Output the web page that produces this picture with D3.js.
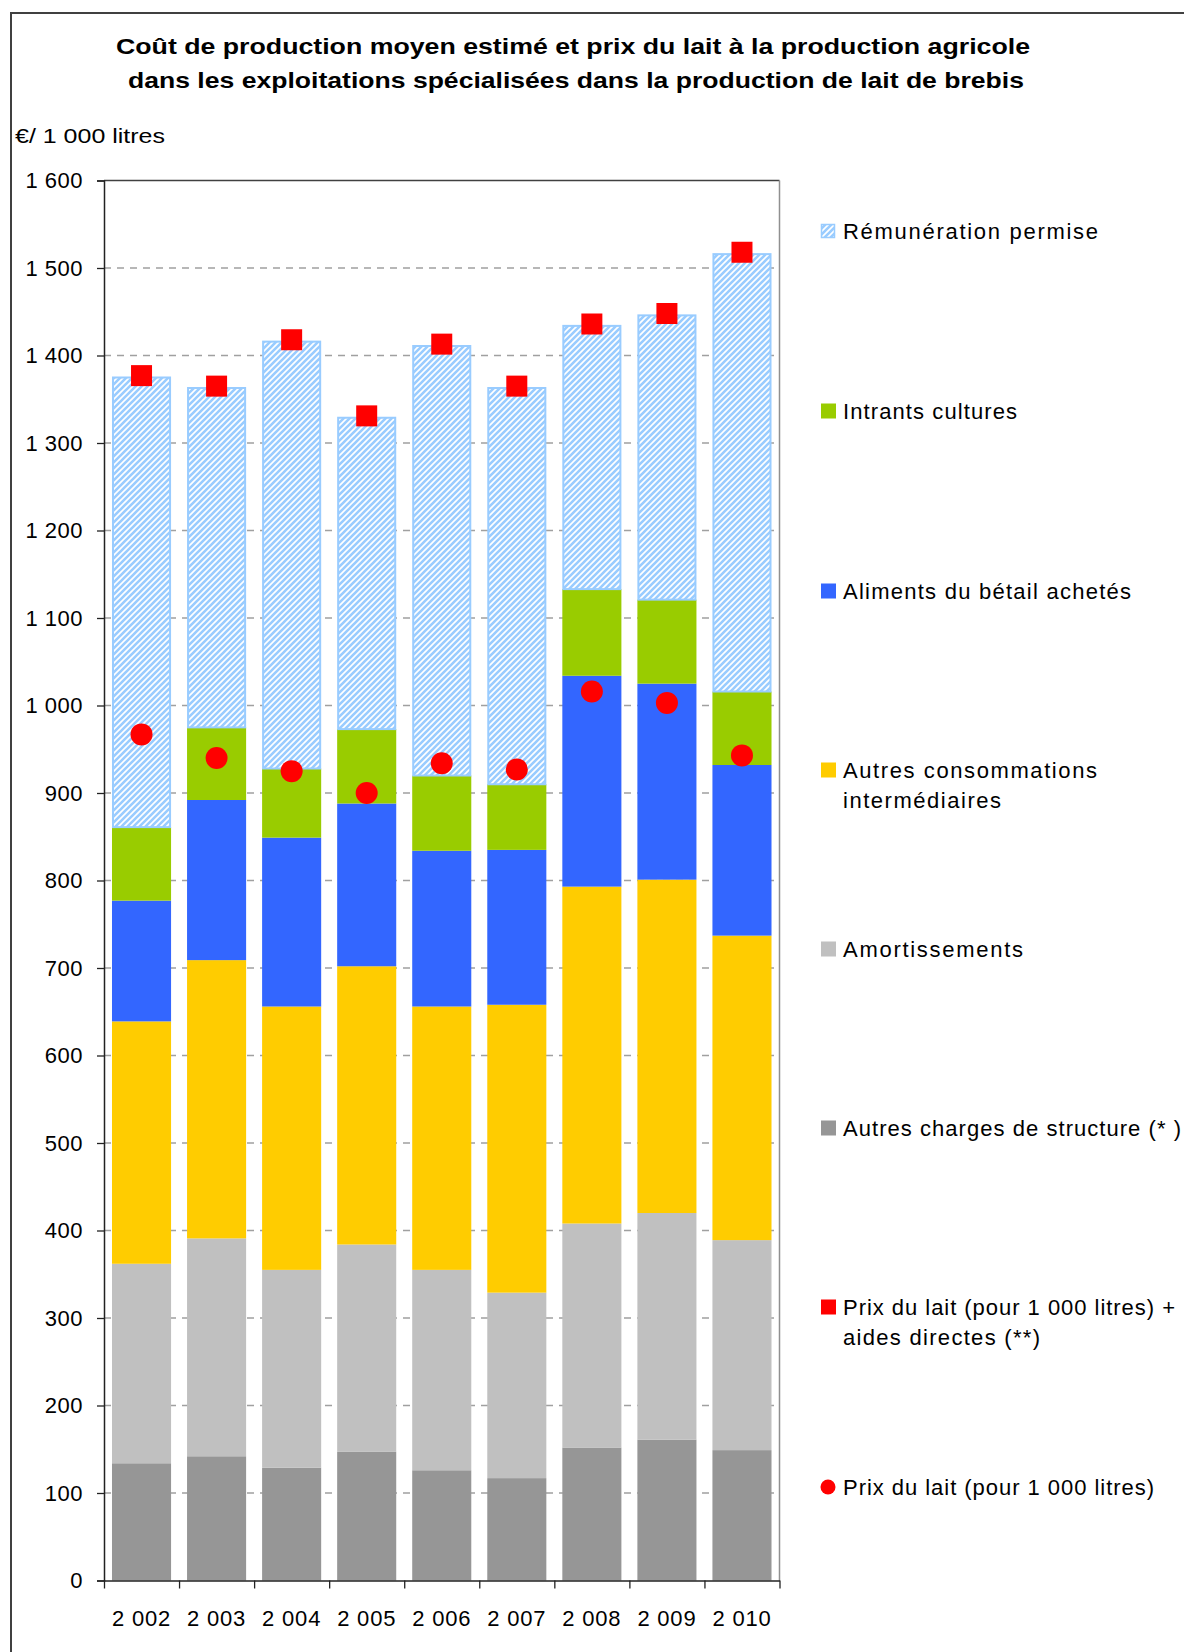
<!DOCTYPE html>
<html><head><meta charset="utf-8">
<script src="https://cdn.jsdelivr.net/npm/d3@7"></script>
<style>
body{margin:0;background:#fff;}
svg{display:block;font-family:"Liberation Sans",Arial,sans-serif;}
</style></head>
<body><svg id="c" width="1184" height="1652"></svg>
<script>
const years = ["2 002","2 003","2 004","2 005","2 006","2 007","2 008","2 009","2 010"];
const autresCharges = [134,142,129,147,126,117,152,161,149];
const amortissements = [228,249,226,237,229,212,256,259,240];
const autresConso = [277,318,301,318,301,329,385,381,348];
const aliments = [138,183,193,186,178,177,241,224,195];
const intrants = [84,83,79,85,86,75,99,96,84];
const remuneration = [515,389,489,357,492,454,302,326,501];
const prixAides = [1377,1365,1418,1331,1413,1365,1436,1448,1518];
const prixLait = [967,940,925,900,934,927,1016,1003,943];
const yTicks = [0,100,200,300,400,500,600,700,800,900,1000,1100,1200,1300,1400,1500,1600];

const seriesData = [autresCharges, amortissements, autresConso, aliments, intrants, remuneration];
const seriesColors = ["#969696","#c0c0c0","#ffcc00","#3366ff","#99cc00","url(#hatch)"];

const svg = d3.select("#c");
const defs = svg.append("defs");
const pat = defs.append("pattern").attr("id","hatch").attr("patternUnits","userSpaceOnUse")
  .attr("width",6).attr("height",6);
pat.append("rect").attr("width",6).attr("height",6).attr("fill","#fff");
pat.append("path").attr("d","M-1,1 l2,-2 M0,6 l6,-6 M5,7 l2,-2").attr("stroke","#99ccff").attr("stroke-width",2.6);

// outer frame
svg.append("rect").attr("x",11).attr("y",13).attr("width",1300).attr("height",1800)
  .attr("fill","none").attr("stroke","#404040").attr("stroke-width",2);

// title
const title = svg.append("text").attr("text-anchor","middle").attr("font-weight","bold").attr("font-size",22).attr("fill","#000");
title.append("tspan").attr("x",573).attr("y",54).attr("textLength",914).attr("lengthAdjust","spacingAndGlyphs").text("Coût de production moyen estimé et prix du lait à la production agricole");
title.append("tspan").attr("x",576).attr("y",88).attr("textLength",896).attr("lengthAdjust","spacingAndGlyphs").text("dans les exploitations spécialisées dans la production de lait de brebis");

svg.append("text").attr("x",15).attr("y",143).attr("font-size",21).attr("textLength",150).attr("lengthAdjust","spacingAndGlyphs").text("€/ 1 000 litres");

const L=104, R=779.5, T=180.5, B=1580.5;
const x = d3.scaleBand().domain(years).range([L,R]).paddingInner(0.213).paddingOuter(0.1065);
const y = d3.scaleLinear().domain([0,1600]).range([B,T]);
const fmt = v => { const s = String(v); return s.length>3 ? s.slice(0,s.length-3)+" "+s.slice(-3) : s; };

// gridlines
svg.append("g").selectAll("line").data(yTicks.filter(v=>v>0&&v<1600)).join("line")
  .attr("x1",L).attr("x2",R).attr("y1",d=>y(d)).attr("y2",d=>y(d))
  .attr("stroke","#a0a0a0").attr("stroke-width",1.3).attr("stroke-dasharray","7,6");

// stacked bars
const table = years.map((yr,i)=>{ const o={year:yr}; seriesData.forEach((s,k)=>o["s"+k]=s[i]); return o; });
const stack = d3.stack().keys(seriesData.map((s,k)=>"s"+k))(table);
stack.forEach((layer,k)=>{
  svg.append("g").selectAll("rect").data(layer).join("rect")
    .attr("x",d=>x(d.data.year)+(k===5?1:0)).attr("width",x.bandwidth()-(k===5?2:0))
    .attr("y",d=>y(d[1])+(k===5?1:0)).attr("height",d=>y(d[0])-y(d[1])-(k===5?1:0))
    .attr("fill",seriesColors[k])
    .attr("stroke",k===5?"#99ccff":"none").attr("stroke-width",2);
});

// frame top/right
svg.append("line").attr("x1",L).attr("x2",R).attr("y1",T).attr("y2",T).attr("stroke","#404040").attr("stroke-width",1.5);
svg.append("line").attr("x1",R).attr("x2",R).attr("y1",T).attr("y2",B).attr("stroke","#909090").attr("stroke-width",1.5);

// y axis
const ya = svg.append("g").attr("transform",`translate(${L},0)`).call(d3.axisLeft(y).tickValues(yTicks).tickFormat(fmt).tickSize(7).tickPadding(14));
ya.select(".domain").attr("stroke","#222").attr("stroke-width",1.5);
ya.selectAll(".tick line").attr("stroke","#222").attr("stroke-width",1.3);
ya.selectAll("text").attr("font-size",22).attr("font-family","Liberation Sans, Arial").attr("fill","#000").attr("letter-spacing",0.5);

// x axis boundaries ticks
const xb = d3.scaleLinear().domain([0,years.length]).range([L,R]);
const xa = svg.append("g").attr("transform",`translate(0,${B})`).call(d3.axisBottom(xb).tickValues(d3.range(years.length+1)).tickFormat("").tickSize(8).tickSizeOuter(0));
xa.select(".domain").attr("stroke","#222").attr("stroke-width",1.5);
xa.selectAll(".tick line").attr("stroke","#222").attr("stroke-width",1.3);
const xl = svg.append("g").attr("transform",`translate(0,${B})`).call(d3.axisBottom(x).tickSize(0).tickPadding(30));
xl.select(".domain").remove();
xl.selectAll("text").attr("font-size",22).attr("font-family","Liberation Sans, Arial").attr("fill","#000").attr("letter-spacing",0.8);

// markers
const cx = i => x(years[i]) + x.bandwidth()/2;
svg.append("g").selectAll("rect").data(prixAides).join("rect")
  .attr("x",(d,i)=>cx(i)-10.5).attr("y",d=>y(d)-10.5).attr("width",21).attr("height",21).attr("fill","#ff0000");
svg.append("g").selectAll("circle").data(prixLait).join("circle")
  .attr("cx",(d,i)=>cx(i)).attr("cy",d=>y(d)).attr("r",11).attr("fill","#ff0000");

// legend
const legend = [
  {lines:["Rémunération permise"], w:[255], type:"hatch", y:231},
  {lines:["Intrants cultures"], w:[174], color:"#99cc00", y:411},
  {lines:["Aliments du bétail achetés"], w:[288], color:"#3366ff", y:591},
  {lines:["Autres consommations","intermédiaires"], w:[254,158], color:"#ffcc00", y:770},
  {lines:["Amortissements"], w:[180], color:"#c0c0c0", y:949},
  {lines:["Autres charges de structure (* )"], w:[338], color:"#969696", y:1128},
  {lines:["Prix du lait (pour 1 000 litres) +","aides directes (**)"], w:[332,197], color:"#ff0000", y:1307},
  {lines:["Prix du lait (pour 1 000 litres)"], w:[311], color:"#ff0000", y:1487, circle:true}
];
const lg = svg.append("g");
legend.forEach(it=>{
  if(it.circle){
    lg.append("circle").attr("cx",828).attr("cy",it.y).attr("r",7.5).attr("fill",it.color);
  } else if(it.type==="hatch"){
    lg.append("rect").attr("x",821.5).attr("y",it.y-6.5).attr("width",13).attr("height",13).attr("fill","url(#hatch)").attr("stroke","#99ccff").attr("stroke-width",1.5);
  } else {
    lg.append("rect").attr("x",821).attr("y",it.y-7.5).attr("width",15).attr("height",15).attr("fill",it.color);
  }
  const t = lg.append("text").attr("font-size",22).attr("fill","#000");
  it.lines.forEach((ln,j)=>t.append("tspan").attr("x",843).attr("y",it.y+8+j*30)
    .attr("textLength",it.w[j]).attr("lengthAdjust","spacing").text(ln));
});
</script></body></html>
